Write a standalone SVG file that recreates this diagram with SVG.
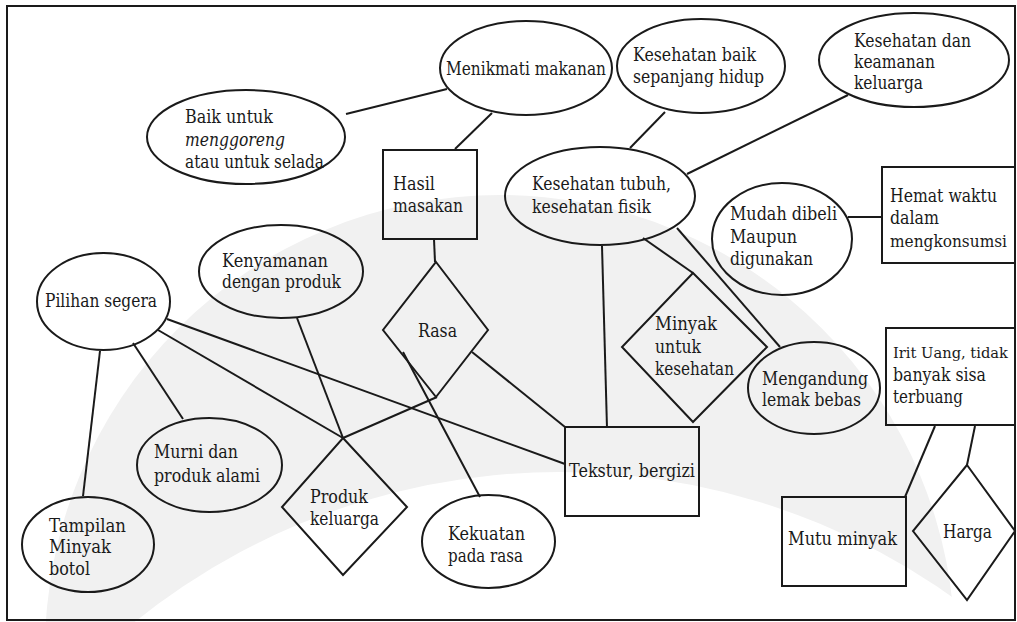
<svg xmlns="http://www.w3.org/2000/svg" width="1017" height="622" viewBox="0 0 1017 622">
<style>
.s{fill:none;stroke:#1a1a1a;stroke-width:2}
.c line{stroke:#1a1a1a;stroke-width:2}
.m{text-anchor:middle}
</style>
<rect x="0" y="0" width="1017" height="622" fill="#ffffff"/>
<g id="watermark">
<circle cx="500" cy="650" r="455" fill="#f1f1f1"/>
<circle cx="560" cy="1150" r="678" fill="#ffffff"/>
</g>
<rect x="7" y="6" width="1008" height="614" class="s"/>
<g id="connectors" class="c">
<line x1="346" y1="114" x2="447" y2="89"/>
<line x1="492" y1="113" x2="455" y2="149"/>
<line x1="665" y1="112" x2="630" y2="148"/>
<line x1="848" y1="95" x2="687" y2="174"/>
<line x1="434" y1="239" x2="435" y2="262"/>
<line x1="602" y1="246" x2="607" y2="428"/>
<line x1="643" y1="238" x2="693" y2="273"/>
<line x1="677" y1="228" x2="780" y2="347"/>
<line x1="848" y1="217" x2="882" y2="217"/>
<line x1="472" y1="352" x2="565" y2="427"/>
<line x1="437" y1="397" x2="343" y2="438"/>
<line x1="403" y1="352" x2="480" y2="497"/>
<line x1="100" y1="351" x2="83" y2="496"/>
<line x1="133" y1="343" x2="183" y2="419"/>
<line x1="158" y1="330" x2="343" y2="438"/>
<line x1="297" y1="318" x2="343" y2="438"/>
<line x1="167" y1="319" x2="565" y2="464"/>
<line x1="935" y1="426" x2="905" y2="497"/>
<line x1="975" y1="426" x2="967" y2="465"/>
</g>
<g font-family="'DejaVu Serif', serif" font-size="18" fill="#1a1a1a">
<g id="n-baik"><ellipse cx="246" cy="137" rx="99" ry="47" class="s"/><text x="185" y="123" textLength="88" lengthAdjust="spacingAndGlyphs">Baik untuk</text><text x="185" y="146" font-style="italic" textLength="100" lengthAdjust="spacingAndGlyphs">menggoreng</text><text x="185" y="168" textLength="139" lengthAdjust="spacingAndGlyphs">atau untuk selada</text></g>
<g id="n-menikmati"><ellipse cx="526" cy="68" rx="86" ry="47" class="s"/><text x="446" y="75" textLength="160" lengthAdjust="spacingAndGlyphs">Menikmati makanan</text></g>
<g id="n-kesbaik"><ellipse cx="701" cy="66" rx="84" ry="47" class="s"/><text x="633" y="61" textLength="123" lengthAdjust="spacingAndGlyphs">Kesehatan baik</text><text x="633" y="83" textLength="131" lengthAdjust="spacingAndGlyphs">sepanjang hidup</text></g>
<g id="n-keskeluarga"><ellipse cx="914" cy="60" rx="95" ry="47" class="s"/><text x="854" y="47" textLength="117" lengthAdjust="spacingAndGlyphs">Kesehatan dan</text><text x="854" y="68" textLength="81" lengthAdjust="spacingAndGlyphs">keamanan</text><text x="854" y="89" textLength="69" lengthAdjust="spacingAndGlyphs">keluarga</text></g>
<g id="n-hasil"><rect x="383" y="150" width="94" height="89" class="s"/><text x="393" y="190" textLength="42" lengthAdjust="spacingAndGlyphs">Hasil</text><text x="393" y="212" textLength="70" lengthAdjust="spacingAndGlyphs">masakan</text></g>
<g id="n-kestubuh"><ellipse cx="600" cy="196" rx="95" ry="49" class="s"/><text x="532" y="190" textLength="139" lengthAdjust="spacingAndGlyphs">Kesehatan tubuh,</text><text x="532" y="213" textLength="119" lengthAdjust="spacingAndGlyphs">kesehatan fisik</text></g>
<g id="n-mudah"><ellipse cx="782" cy="239" rx="70" ry="56" class="s"/><text x="730" y="220" textLength="107" lengthAdjust="spacingAndGlyphs">Mudah dibeli</text><text x="730" y="243" textLength="67" lengthAdjust="spacingAndGlyphs">Maupun</text><text x="730" y="265" textLength="83" lengthAdjust="spacingAndGlyphs">digunakan</text></g>
<g id="n-hemat"><rect x="882" y="167" width="133" height="96" class="s"/><text x="890" y="202" textLength="107" lengthAdjust="spacingAndGlyphs">Hemat waktu</text><text x="890" y="224" textLength="49" lengthAdjust="spacingAndGlyphs">dalam</text><text x="890" y="247" font-size="16" textLength="117" lengthAdjust="spacingAndGlyphs">mengkonsumsi</text></g>
<g id="n-pilihan"><ellipse cx="103.5" cy="301.5" rx="66.5" ry="48.5" class="s"/><text x="45" y="307" textLength="112" lengthAdjust="spacingAndGlyphs">Pilihan segera</text></g>
<g id="n-kenyamanan"><ellipse cx="281" cy="271.5" rx="82" ry="46.5" class="s"/><text x="222" y="267" textLength="106" lengthAdjust="spacingAndGlyphs">Kenyamanan</text><text x="222" y="288" textLength="119" lengthAdjust="spacingAndGlyphs">dengan produk</text></g>
<g id="n-rasa"><polygon points="436,262 488,330 436,397 383,330" class="s"/><text x="418" y="337" textLength="39" lengthAdjust="spacingAndGlyphs">Rasa</text></g>
<g id="n-minyak"><polygon points="693,273 767,347 693,422 622,347" class="s"/><text x="655" y="330" textLength="62" lengthAdjust="spacingAndGlyphs">Minyak</text><text x="655" y="353" textLength="46" lengthAdjust="spacingAndGlyphs">untuk</text><text x="655" y="375" textLength="79" lengthAdjust="spacingAndGlyphs">kesehatan</text></g>
<g id="n-mengandung"><ellipse cx="814" cy="388" rx="66" ry="46" class="s"/><text x="762" y="385" textLength="106" lengthAdjust="spacingAndGlyphs">Mengandung</text><text x="762" y="406" textLength="99" lengthAdjust="spacingAndGlyphs">lemak bebas</text></g>
<g id="n-irit"><rect x="886" y="328" width="129" height="97" class="s"/><text x="893" y="358" font-size="15.5" textLength="115" lengthAdjust="spacingAndGlyphs">Irit Uang, tidak</text><text x="893" y="381" textLength="93" lengthAdjust="spacingAndGlyphs">banyak sisa</text><text x="893" y="403" textLength="70" lengthAdjust="spacingAndGlyphs">terbuang</text></g>
<g id="n-murni"><ellipse cx="209.5" cy="465" rx="72.5" ry="47" class="s"/><text x="154" y="458" textLength="84" lengthAdjust="spacingAndGlyphs">Murni dan</text><text x="154" y="482" textLength="106" lengthAdjust="spacingAndGlyphs">produk alami</text></g>
<g id="n-produk"><polygon points="343,438 407,507 343,575 282,507" class="s"/><text x="310" y="503" textLength="58" lengthAdjust="spacingAndGlyphs">Produk</text><text x="310" y="525" textLength="69" lengthAdjust="spacingAndGlyphs">keluarga</text></g>
<g id="n-tekstur"><rect x="565" y="427" width="134" height="89" class="s"/><text x="569" y="477" textLength="126" lengthAdjust="spacingAndGlyphs">Tekstur, bergizi</text></g>
<g id="n-tampilan"><ellipse cx="88" cy="544.5" rx="66" ry="47.5" class="s"/><text x="49" y="532" textLength="77" lengthAdjust="spacingAndGlyphs">Tampilan</text><text x="49" y="553" textLength="62" lengthAdjust="spacingAndGlyphs">Minyak</text><text x="49" y="575" textLength="41" lengthAdjust="spacingAndGlyphs">botol</text></g>
<g id="n-kekuatan"><ellipse cx="488.5" cy="541.5" rx="66.5" ry="46.5" class="s"/><text x="448" y="540" textLength="77" lengthAdjust="spacingAndGlyphs">Kekuatan</text><text x="448" y="562" textLength="75" lengthAdjust="spacingAndGlyphs">pada rasa</text></g>
<g id="n-mutu"><rect x="782" y="497" width="124" height="89" class="s"/><text x="788" y="545" textLength="109" lengthAdjust="spacingAndGlyphs">Mutu minyak</text></g>
<g id="n-harga"><polygon points="967,465 1015,531 967,600 913,531" class="s"/><text x="943" y="538" textLength="49" lengthAdjust="spacingAndGlyphs">Harga</text></g>
</g>
</svg>
